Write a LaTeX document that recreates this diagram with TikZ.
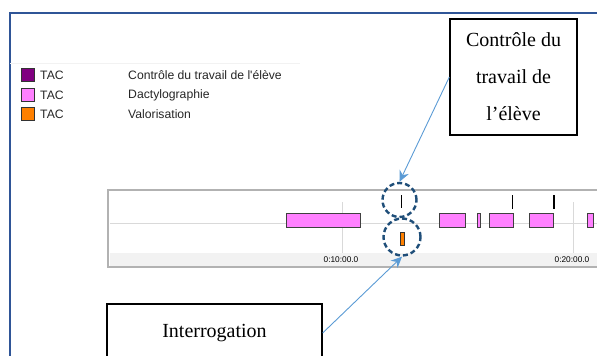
\documentclass[tikz,border=0pt]{standalone}
\usepackage{fontspec}
\setmainfont{Liberation Serif}
\newfontfamily\uifont[Ligatures=ResetAll]{Liberation Sans}
\usepackage{xcolor}
\usetikzlibrary{arrows.meta}

\definecolor{frameblue}{HTML}{2F5597}
\definecolor{ringblue}{HTML}{1F4E79}
\definecolor{callblue}{HTML}{5B9BD5}
\definecolor{tacpurple}{HTML}{800080}
\definecolor{tacpink}{HTML}{FF80FF}
\definecolor{tacorange}{HTML}{FF8000}

\begin{document}
\begin{tikzpicture}[x=1pt,y=-1pt,
  callbox/.style={draw=black,line width=1.3pt,fill=white,align=center,inner sep=0pt,font=\fontsize{20}{37}\selectfont},
  ring/.style={circle,draw=ringblue,line width=2.4pt,dash pattern=on 5pt off 3pt,inner sep=0pt},
  pointer/.style={callblue,line width=0.9pt,-{Stealth[length=11pt,width=10pt]}},
  legbox/.style={draw=black!80,line width=0.8pt,minimum size=13pt,inner sep=0pt},
  legtxt/.style={anchor=west,inner sep=0pt,text=black!85,font=\uifont\fontsize{12.2}{14}\selectfont},
  ticktxt/.style={inner sep=0pt,font=\uifont\fontsize{8.3}{9}\selectfont},
  bar/.style={draw=black!75,line width=0.7pt,fill=tacpink}]
  \useasboundingbox (0,0) rectangle (597,356);
  % window frame
  \draw[frameblue,line width=1.4pt] (597,13) -- (10,13) -- (10,356);
  \draw[gray!10] (10,63) -- (300,63);
  % legend
  \node[legbox,fill=tacpurple] (sqctrl) at (28,75) {};
  \node[legbox,fill=tacpink] (sqdact) at (28,95) {};
  \node[legbox,fill=tacorange] (sqval) at (28,114) {};
  \node[legtxt] (tacctrl) at (40,75) {TAC};
  \node[legtxt] (tacdact) at (40,95) {TAC};
  \node[legtxt] (tacval) at (40,114) {TAC};
  \node[legtxt] (labctrl) at (128,75) {Contrôle du travail de l'élève};
  \node[legtxt] (labdact) at (128,95) {Dactylographie};
  \node[legtxt] (labval) at (128,114) {Valorisation};
  % timeline panel
  \fill[gray!10] (110,253) rectangle (597,266);
  \draw[gray!30] (110,223) -- (597,223);
  \draw[gray!30] (342,202) -- (342,253);
  \draw[gray!30] (573,202) -- (573,253);
  \node[ticktxt] (tick10) at (341,260) {0:10:00.0};
  \node[ticktxt] (tick20) at (572,260) {0:20:00.0};
  \draw[gray!60,line width=2.4pt] (597,190) -- (108,190) -- (108,267) -- (597,267);
  % Dactylographie bars
  \draw[bar] (286,213) rectangle (360,227);
  \draw[bar] (439,213) rectangle (465,227);
  \draw[bar] (477,213) rectangle (480,227);
  \draw[bar] (489,213) rectangle (513,227);
  \draw[bar] (529,213) rectangle (553,227);
  \draw[bar] (587,213) rectangle (593,227);
  % controle ticks
  \draw[black,line width=1pt] (401,195) -- (401,208);
  \draw[black,line width=1pt] (512,195) -- (512,209);
  \draw[black,line width=1.6pt] (554,195) -- (554,209);
  % valorisation mark
  \draw[black!80,fill=tacorange,line width=0.6pt] (400,232) rectangle (404,245);
  % rings
  \node[ring,minimum size=34pt] (topring) at (399.5,200) {};
  \node[ring,minimum size=37pt] (botring) at (402,237) {};
  % callouts
  \node[callbox,minimum width=127pt,minimum height=116pt] (ctrlbox) at (513.5,77) {Contrôle du\\travail de\\l’élève};
  \node[callbox,minimum width=215pt,minimum height=58pt] (intbox) at (214.5,333) {Interrogation};
  \draw[pointer] (ctrlbox.west) -- (topring.north);
  \draw[pointer] (intbox.east) -- (botring.south);
\end{tikzpicture}
\end{document}
